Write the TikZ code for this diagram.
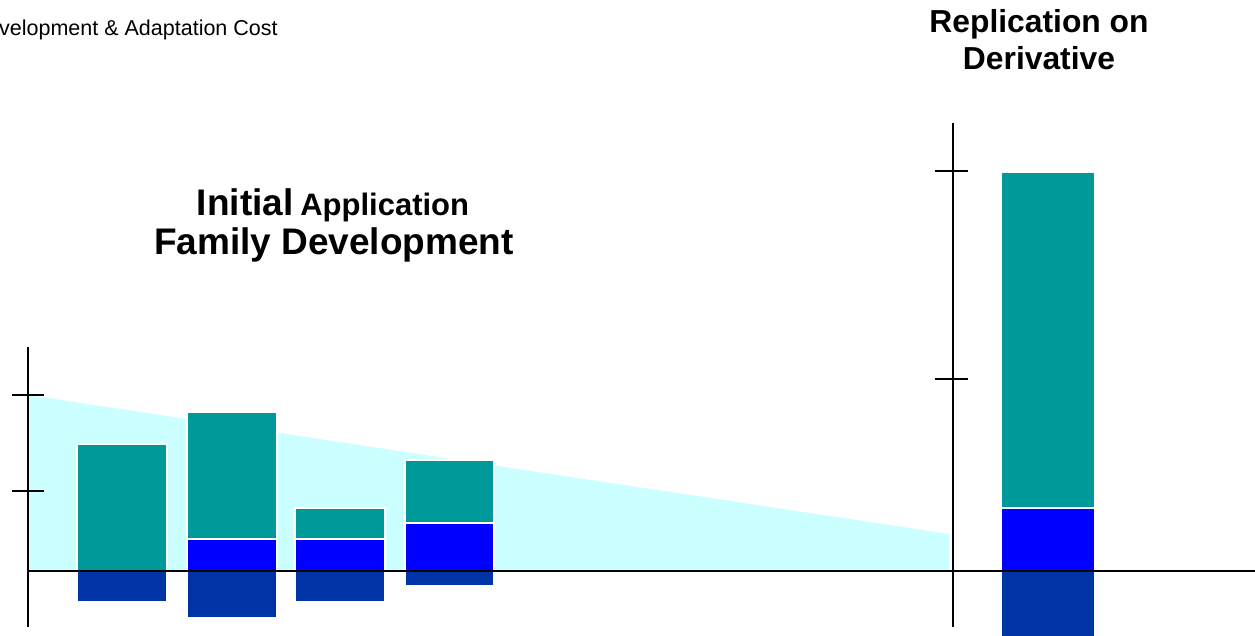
\documentclass[tikz,border=0pt]{standalone}
\usepackage{fontspec}
\setmainfont{Liberation Sans}
\definecolor{teal1}{HTML}{009999}
\definecolor{blue1}{HTML}{0000FF}
\definecolor{dblue}{HTML}{0033A6}
\definecolor{lcyan}{HTML}{CCFFFF}
\tikzset{
  seg/.style={draw=white, line width=1.5pt},
  tealseg/.style={seg, fill=teal1},
  blueseg/.style={seg, fill=blue1},
  dblueseg/.style={seg, fill=dblue},
  axis/.style={draw=black, line width=2.5pt},
  lbl/.style={inner sep=0pt, anchor=base, font=\bfseries}
}
\begin{document}
\begin{tikzpicture}[x=1pt, y=-1pt]
\useasboundingbox (0,0) rectangle (1255,636);
\fill[white] (0,0) rectangle (1255,636);
% light cyan trend area
\fill[lcyan] (28,395) -- (949,534) -- (949,571) -- (28,571) -- cycle;
% left bars
\path[tealseg] (77,444) rectangle (167,571);
\path[dblueseg] (77,571) rectangle (167,602);
\path[tealseg] (187,412) rectangle (277,539);
\path[blueseg] (187,539) rectangle (277,571);
\path[dblueseg] (187,571) rectangle (277,618);
\path[tealseg] (295,508) rectangle (385,539);
\path[blueseg] (295,539) rectangle (385,571);
\path[dblueseg] (295,571) rectangle (385,602);
\path[tealseg] (405,460) rectangle (494,523);
\path[blueseg] (405,523) rectangle (494,571);
\path[dblueseg] (405,571) rectangle (494,586);
% right bar
\path[tealseg] (1001,172) rectangle (1095,508);
\path[blueseg] (1001,508) rectangle (1095,571);
\path[dblueseg] (1001,571) rectangle (1095,640);
% axes
\coordinate (ltop) at (28,347);
\coordinate (lbot) at (28,627);
\coordinate (xl) at (28,571);
\coordinate (xr) at (1255,571);
\coordinate (rtop) at (953,123);
\coordinate (rbot) at (953,627);
\draw[axis] (ltop) -- (lbot);
\draw[axis] (xl) -- (xr);
\draw[axis] (rtop) -- (rbot);
\draw[axis] (12,395) -- (44,395);
\draw[axis] (12,491) -- (44,491);
\draw[axis] (935,171) -- (968,171);
\draw[axis] (935,379) -- (968,379);
% texts
\node[inner sep=0pt, anchor=base west, font=\fontsize{21.5}{26}\selectfont] (cost) at (-1,36) {velopment \& Adaptation Cost};
\node[lbl] (initial) at (333,216) {{\fontsize{37}{44}\selectfont Initial}\hspace{4pt} {\fontsize{31}{38}\selectfont Application}};
\node[lbl, font=\bfseries\fontsize{37}{44}\selectfont] (family) at (334,255) {Family Development};
\node[lbl, font=\bfseries\fontsize{31.8}{38}\selectfont] (repl) at (1039,33) {Replication on};
\node[lbl, font=\bfseries\fontsize{31.8}{38}\selectfont] (deriv) at (1039,70) {Derivative};
\end{tikzpicture}
\end{document}
